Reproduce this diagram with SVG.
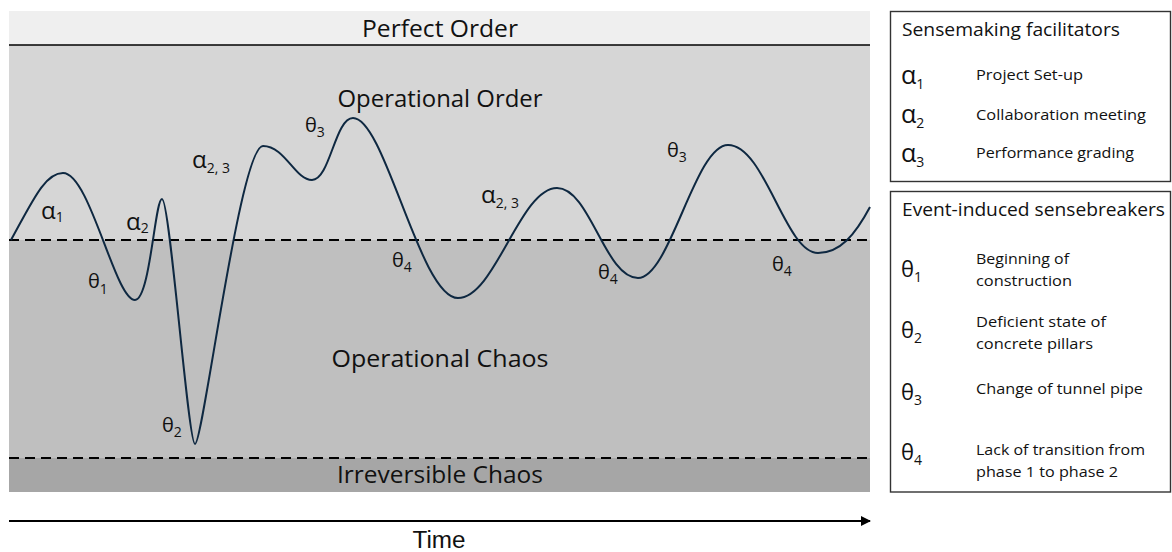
<svg xmlns="http://www.w3.org/2000/svg" width="1172" height="552" viewBox="0 0 1172 552">
<defs>
<style>
.lbl{font-family:"Open Sans","Liberation Sans",sans-serif;fill:#111}
.zone{font-size:23.5px;text-anchor:middle}
.th{font-size:20px}
.al{font-size:24px}
.sub{font-size:14px}
.lg{font-family:"Open Sans","Liberation Sans",sans-serif;fill:#111}
.lgh{font-size:18.5px}
.lgt{font-size:15px}
.lgs{font-size:22px}
.lga{font-size:25px}
.lgsub{font-size:14px}
.dash{stroke:#000;stroke-width:2;stroke-dasharray:10 6;fill:none}
.box{fill:#fff;stroke:#333;stroke-width:1.4}
</style>
<marker id="arr" viewBox="0 0 10 10" refX="9" refY="5" markerWidth="5" markerHeight="5" orient="auto" markerUnits="strokeWidth">
<path d="M0,0 L10,5 L0,10 z" fill="#000"/>
</marker>
</defs>
<rect width="1172" height="552" fill="#fff"/>
<g id="zones">
<rect x="9" y="11" width="861" height="34" fill="#efefef"/>
<rect x="9" y="45" width="861" height="195" fill="#d6d6d6"/>
<rect x="9" y="240" width="861" height="218" fill="#bfbfbf"/>
<rect x="9" y="458" width="861" height="34" fill="#a6a6a6"/>
<line x1="9" y1="45" x2="870" y2="45" stroke="#000" stroke-width="1.6"/>
<line class="dash" x1="9" y1="240" x2="870" y2="240"/>
<line class="dash" x1="9" y1="458" x2="870" y2="458"/>
<text class="lbl zone" x="440" y="37" textLength="156" lengthAdjust="spacingAndGlyphs">Perfect Order</text>
<text class="lbl zone" x="440" y="107" textLength="205" lengthAdjust="spacingAndGlyphs">Operational Order</text>
<text class="lbl zone" x="440" y="367" textLength="217" lengthAdjust="spacingAndGlyphs">Operational Chaos</text>
<text class="lbl zone" x="440" y="483" textLength="206" lengthAdjust="spacingAndGlyphs">Irreversible Chaos</text>
</g>
<g id="connectors">
<path d="M11,240 C33,200 45,173 63,173 C90,173 115,300 135,300 C150,300 155,199 162,199 C170,199 188,444 195,444 C203,444 240,146 263,146 C285,146 295,180 312,180 C330,180 335,118 353,118 C385,118 420,298 458,298 C495,298 520,188 557,188 C590,188 605,278 638,278 C670,278 695,145 728,145 C765,145 785,253 818,253 C840,253 855,235 870,207" fill="none" stroke="#0e2841" stroke-width="2"/>
<line x1="9" y1="521" x2="870" y2="521" stroke="#000" stroke-width="2" marker-end="url(#arr)"/>
</g>
<g id="curve-labels">
<text class="lbl al" x="41" y="219">α<tspan class="sub" dy="3">1</tspan></text>
<text class="lbl al" x="126" y="230">α<tspan class="sub" dy="3">2</tspan></text>
<text class="lbl al" x="192" y="168">α<tspan class="sub" dy="5">2, 3</tspan></text>
<text class="lbl th" x="305" y="132">θ<tspan class="sub" dy="5">3</tspan></text>
<text class="lbl th" x="88" y="288">θ<tspan class="sub" dy="6">1</tspan></text>
<text class="lbl th" x="162" y="432">θ<tspan class="sub" dy="5">2</tspan></text>
<text class="lbl th" x="392" y="267">θ<tspan class="sub" dy="5">4</tspan></text>
<text class="lbl al" x="481" y="203">α<tspan class="sub" dy="5">2, 3</tspan></text>
<text class="lbl th" x="667" y="157">θ<tspan class="sub" dy="5">3</tspan></text>
<text class="lbl th" x="598" y="279">θ<tspan class="sub" dy="5">4</tspan></text>
<text class="lbl th" x="772" y="271">θ<tspan class="sub" dy="5">4</tspan></text>
</g>
<g id="time-label">
<text x="439" y="548" font-family="Liberation Sans, Arial, sans-serif" font-size="23" text-anchor="middle" fill="#111" textLength="53" lengthAdjust="spacingAndGlyphs">Time</text>
</g>
<g id="legend-facilitators">
<rect class="box" x="890.5" y="11.5" width="280" height="170"/>
<text class="lg lgh" x="902" y="36" textLength="218" lengthAdjust="spacingAndGlyphs">Sensemaking facilitators</text>
<text class="lg lga" x="901" y="84">α<tspan class="lgsub" dy="5">1</tspan></text>
<text class="lg lgt" x="976" y="80" textLength="107" lengthAdjust="spacingAndGlyphs">Project Set-up</text>
<text class="lg lga" x="901" y="123">α<tspan class="lgsub" dy="5">2</tspan></text>
<text class="lg lgt" x="976" y="120" textLength="170" lengthAdjust="spacingAndGlyphs">Collaboration meeting</text>
<text class="lg lga" x="901" y="162">α<tspan class="lgsub" dy="5">3</tspan></text>
<text class="lg lgt" x="976" y="158" textLength="158" lengthAdjust="spacingAndGlyphs">Performance grading</text>
</g>
<g id="legend-sensebreakers">
<rect class="box" x="890.5" y="191.5" width="280" height="300.5"/>
<text class="lg lgh" x="902" y="216" textLength="263" lengthAdjust="spacingAndGlyphs">Event-induced sensebreakers</text>
<text class="lg lgs" x="901" y="277">θ<tspan class="lgsub" dy="5">1</tspan></text>
<text class="lg lgt" x="976" y="264" textLength="93" lengthAdjust="spacingAndGlyphs">Beginning of</text>
<text class="lg lgt" x="976" y="286" textLength="96" lengthAdjust="spacingAndGlyphs">construction</text>
<text class="lg lgs" x="901" y="338">θ<tspan class="lgsub" dy="5">2</tspan></text>
<text class="lg lgt" x="976" y="327" textLength="130" lengthAdjust="spacingAndGlyphs">Deficient state of</text>
<text class="lg lgt" x="976" y="349" textLength="117" lengthAdjust="spacingAndGlyphs">concrete pillars</text>
<text class="lg lgs" x="901" y="400">θ<tspan class="lgsub" dy="5">3</tspan></text>
<text class="lg lgt" x="976" y="394" textLength="167" lengthAdjust="spacingAndGlyphs">Change of tunnel pipe</text>
<text class="lg lgs" x="901" y="460">θ<tspan class="lgsub" dy="5">4</tspan></text>
<text class="lg lgt" x="976" y="455" textLength="169" lengthAdjust="spacingAndGlyphs">Lack of transition from</text>
<text class="lg lgt" x="976" y="477" textLength="142" lengthAdjust="spacingAndGlyphs">phase 1 to phase 2</text>
</g>
</svg>
